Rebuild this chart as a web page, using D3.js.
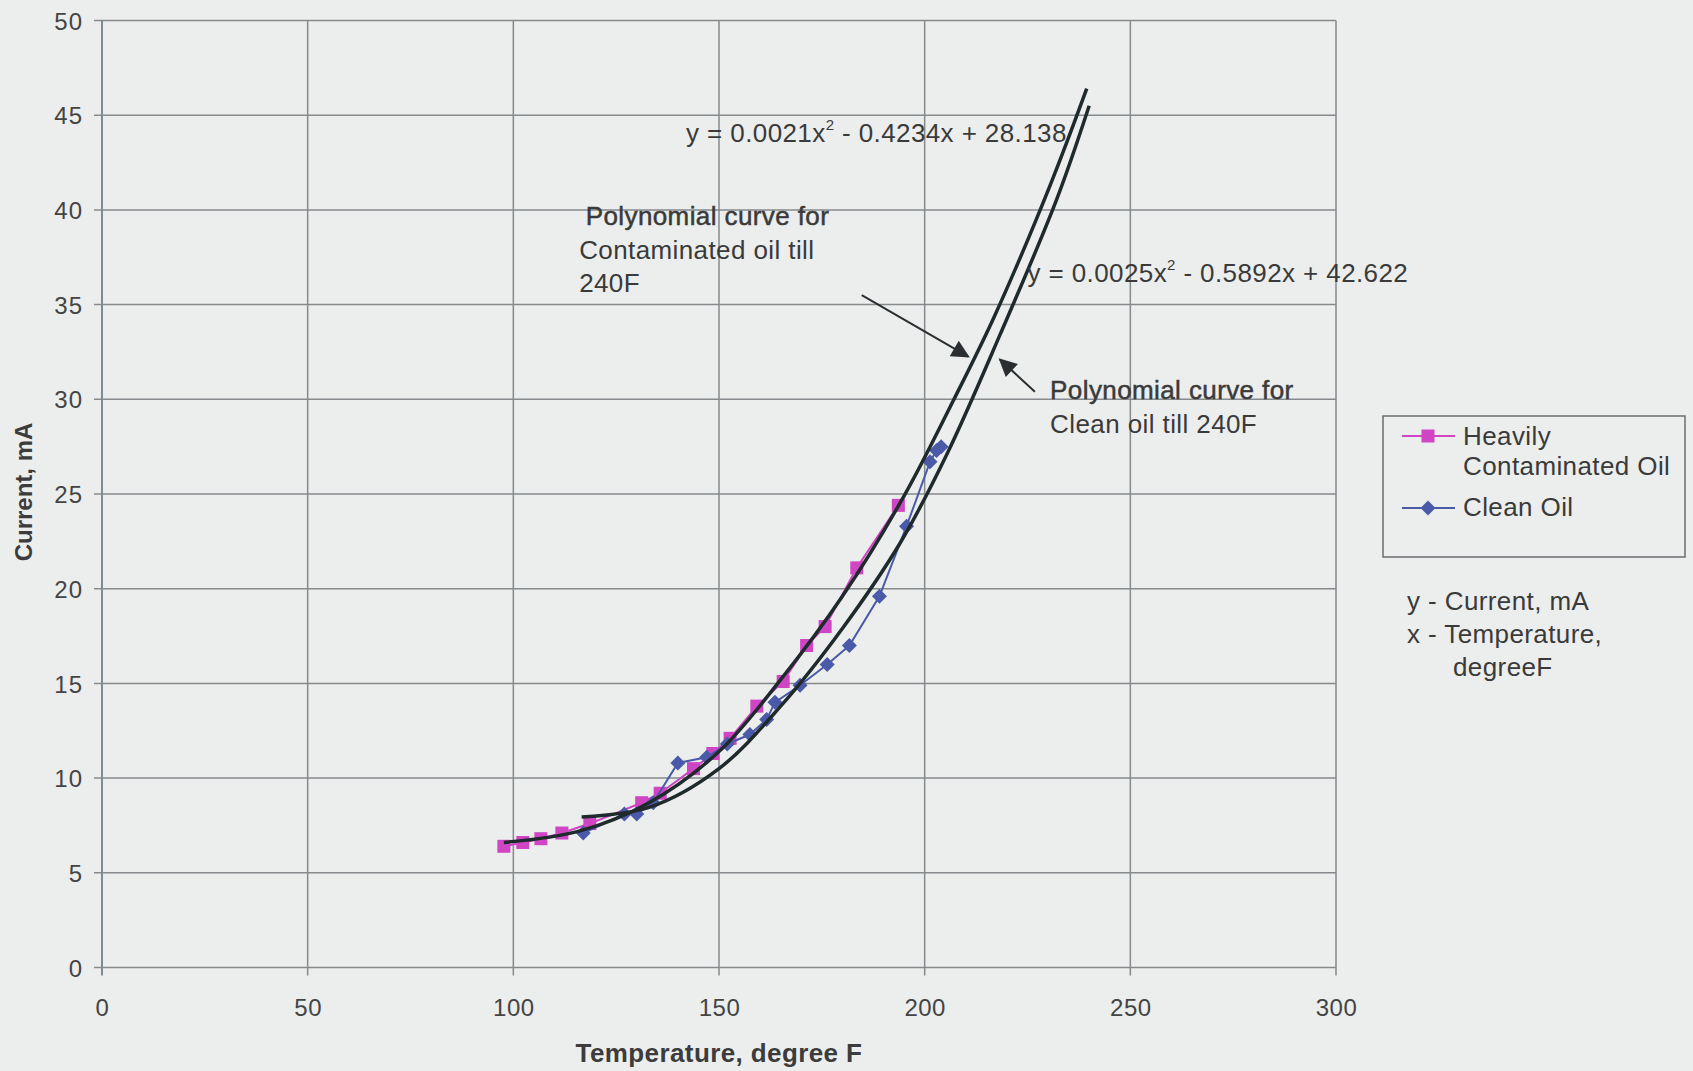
<!DOCTYPE html>
<html>
<head>
<meta charset="utf-8">
<script src="https://cdn.jsdelivr.net/npm/d3@7"></script>
<style>
  body { margin: 0; background: #eceeed; }
  svg { display: block; font-family: "Liberation Sans", Arial, sans-serif; }
  .grid line { stroke: #868a8c; stroke-width: 1.5; }
  .tick text { fill: #444; font-size: 24px; }
  .note { fill: #3a3a3a; font-size: 26px; letter-spacing: 0.4px; }
</style>
</head>
<body>
<div id="chart"></div>
<script>
// Heavily contaminated oil: temperature (F), current (mA)
var contamTemp = [97.7, 102.3, 106.7, 111.8, 118.6, 131.2, 135.7, 143.8, 148.5, 152.7, 159.2, 165.6, 171.3, 175.8, 183.5, 193.6];
var contamCur  = [6.4, 6.6, 6.8, 7.1, 7.6, 8.7, 9.2, 10.5, 11.3, 12.1, 13.8, 15.1, 17.0, 18.0, 21.1, 24.4];

// Clean oil
var cleanTemp = [117, 127, 130, 134, 140, 147, 152, 157.5, 161.6, 163.6, 169.7, 176.3, 181.7, 189, 195.6, 201.3, 202.9, 204];
var cleanCur  = [7.1, 8.1, 8.1, 8.7, 10.8, 11.1, 11.8, 12.3, 13.1, 14.0, 14.9, 16.0, 17.0, 19.6, 23.3, 26.7, 27.3, 27.5];

// polynomial trend curves
var contamFitTemp = [97.7, 116, 133, 150, 165, 180, 195, 207, 217, 230.5, 239.4];
var contamFitCur  = [6.6, 7.2, 8.7, 11.4, 15.2, 19.6, 24.9, 29.95, 34.4, 41.3, 46.4];
var cleanFitTemp  = [116.6, 133, 150, 165, 180, 194, 205.4, 218.3, 232, 240];
var cleanFitCur   = [7.95, 8.45, 10.5, 13.8, 17.9, 22.4, 27.1, 33.4, 40.5, 45.5];

var eqContam = "y = 0.0021x|2| - 0.4234x + 28.138";
var eqClean  = "y = 0.0025x|2| - 0.5892x + 42.622";

var xTicks = [0, 50, 100, 150, 200, 250, 300];
var yTicks = [0, 5, 10, 15, 20, 25, 30, 35, 40, 45, 50];

var margin = {top: 20.5, left: 102},
    width = 1234,
    height = 947;

var svg = d3.select("#chart").append("svg")
    .attr("width", 1693)
    .attr("height", 1071);

svg.append("defs").append("marker")
    .attr("id", "arrow")
    .attr("viewBox", "0 0 10 10")
    .attr("refX", 9).attr("refY", 5)
    .attr("markerWidth", 22).attr("markerHeight", 18)
    .attr("markerUnits", "userSpaceOnUse")
    .attr("orient", "auto")
  .append("path")
    .attr("d", "M0,0 L10,5 L0,10 Z")
    .attr("fill", "#2a2e30");

var g = svg.append("g")
    .attr("transform", "translate(" + margin.left + "," + margin.top + ")");

var x = d3.scaleLinear().domain([0, 300]).range([0, width]),
    y = d3.scaleLinear().domain([0, 50]).range([height, 0]);

// grid
g.append("g").attr("class", "grid")
  .selectAll("line").data(yTicks).enter().append("line")
    .attr("x1", -8).attr("x2", width)
    .attr("y1", function(d) { return y(d); })
    .attr("y2", function(d) { return y(d); });

g.append("g").attr("class", "grid")
  .selectAll("line").data(xTicks).enter().append("line")
    .attr("y1", 0).attr("y2", height + 8)
    .attr("x1", function(d) { return x(d); })
    .attr("x2", function(d) { return x(d); })
    .style("stroke", function(d) { return d === 0 ? "#7a8c98" : null; })
    .style("stroke-width", function(d) { return d === 0 ? 2 : null; });

// axes labels
var yAxis = d3.axisLeft(y).tickValues(yTicks).tickSize(0).tickPadding(19);
g.append("g").call(yAxis).call(function(s) { s.select(".domain").remove(); })
  .selectAll("text").attr("dy", "0.36em").style("letter-spacing", "1px");

var xAxis = d3.axisBottom(x).tickValues(xTicks).tickSize(0).tickPadding(41);
g.append("g").attr("transform", "translate(0," + height + ")")
  .call(xAxis).call(function(s) { s.select(".domain").remove(); })
  .selectAll("text").attr("dy", "0.3em").style("letter-spacing", "0.5px");

svg.append("text")
    .attr("transform", "translate(32," + (margin.top + height / 2 - 2) + ") rotate(-90)")
    .attr("text-anchor", "middle")
    .attr("font-size", "24px").attr("font-weight", "bold").attr("fill", "#3c3c3c")
    .text("Current, mA");

svg.append("text")
    .attr("x", 719).attr("y", 1062)
    .attr("text-anchor", "middle")
    .attr("font-size", "26px").attr("font-weight", "bold").attr("fill", "#3c3c3c")
    .style("letter-spacing", "0.4px")
    .text("Temperature, degree F");

// data series
function zip(a, b) { return a.map(function(t, i) { return {t: t, c: b[i]}; }); }
var contam = zip(contamTemp, contamCur);
var clean = zip(cleanTemp, cleanCur);

var line = d3.line()
    .x(function(d) { return x(d.t); })
    .y(function(d) { return y(d.c); });

var pink = "#cf45c4", blue = "#4a5aa8";

g.append("path").datum(contam)
    .attr("fill", "none").attr("stroke", pink).attr("stroke-width", 2)
    .attr("d", line);
g.selectAll(".sq").data(contam).enter().append("rect")
    .attr("class", "sq")
    .attr("x", function(d) { return x(d.t) - 6.5; })
    .attr("y", function(d) { return y(d.c) - 6.5; })
    .attr("width", 13).attr("height", 13)
    .attr("fill", pink);

g.append("path").datum(clean)
    .attr("fill", "none").attr("stroke", blue).attr("stroke-width", 2)
    .attr("d", line);
g.selectAll(".dm").data(clean).enter().append("path")
    .attr("class", "dm")
    .attr("transform", function(d) { return "translate(" + x(d.t) + "," + y(d.c) + ")"; })
    .attr("d", "M0,-7.5 L7.5,0 L0,7.5 L-7.5,0 Z")
    .attr("fill", blue);

// trendlines
var smooth = d3.line()
    .curve(d3.curveCatmullRom.alpha(0.5))
    .x(function(d) { return x(d.t); })
    .y(function(d) { return y(d.c); });
[zip(contamFitTemp, contamFitCur), zip(cleanFitTemp, cleanFitCur)].forEach(function(pts) {
  g.append("path").datum(pts)
      .attr("fill", "none").attr("stroke", "#1f2a2d").attr("stroke-width", 3.5)
      .attr("d", smooth);
});

// annotations
function eq(px, py, str) {
  var parts = str.split("|");
  var t = g.append("text").attr("class", "note").attr("x", x(px)).attr("y", y(py));
  t.append("tspan").text(parts[0]);
  t.append("tspan").attr("dy", -12).attr("font-size", "15px").text(parts[1]);
  t.append("tspan").attr("dy", 12).text(parts[2]);
}
eq(142, 43.6, eqContam);
eq(225, 36.2, eqClean);

function note(px, py, lines) {
  var t = g.append("text").attr("class", "note");
  lines.forEach(function(l, i) {
    t.append("tspan").attr("x", x(px[i])).attr("y", y(py) + i * 33.5)
      .style("stroke", i === 0 ? "#3a3a3a" : null)
      .style("stroke-width", i === 0 ? 0.5 : null)
      .text(l);
  });
}
note([117.6, 116, 116], 39.2, ["Polynomial curve for", "Contaminated oil till", "240F"]);
note([230.5, 230.5], 30.0, ["Polynomial curve for", "Clean oil till 240F"]);

g.append("line")
    .attr("x1", x(184.7)).attr("y1", y(35.5))
    .attr("x2", x(210.6)).attr("y2", y(32.25))
    .attr("stroke", "#2a2e30").attr("stroke-width", 2)
    .attr("marker-end", "url(#arrow)");
g.append("line")
    .attr("x1", x(226.8)).attr("y1", y(30.4))
    .attr("x2", x(218.3)).attr("y2", y(32.1))
    .attr("stroke", "#2a2e30").attr("stroke-width", 2)
    .attr("marker-end", "url(#arrow)");

// legend
var lg = svg.append("g").attr("transform", "translate(1383,416)");
lg.append("rect").attr("width", 302).attr("height", 141)
    .attr("fill", "none").attr("stroke", "#6a6e70").attr("stroke-width", 1.5);
lg.append("line").attr("x1", 19).attr("x2", 72).attr("y1", 20).attr("y2", 20)
    .attr("stroke", pink).attr("stroke-width", 2);
lg.append("rect").attr("x", 38.5).attr("y", 13.5).attr("width", 13).attr("height", 13).attr("fill", pink);
lg.append("line").attr("x1", 19).attr("x2", 72).attr("y1", 92).attr("y2", 92)
    .attr("stroke", blue).attr("stroke-width", 2);
lg.append("path").attr("transform", "translate(45,92)").attr("d", "M0,-7.5 L7.5,0 L0,7.5 L-7.5,0 Z").attr("fill", blue);
lg.append("text").attr("class", "note").attr("x", 80).attr("y", 29).text("Heavily");
lg.append("text").attr("class", "note").attr("x", 80).attr("y", 59).text("Contaminated Oil");
lg.append("text").attr("class", "note").attr("x", 80).attr("y", 100).text("Clean Oil");

svg.append("text").attr("class", "note").attr("x", 1407).attr("y", 610).text("y - Current, mA");
svg.append("text").attr("class", "note").attr("x", 1407).attr("y", 643).text("x - Temperature,");
svg.append("text").attr("class", "note").attr("x", 1453).attr("y", 676).text("degreeF");
</script>
</body>
</html>
